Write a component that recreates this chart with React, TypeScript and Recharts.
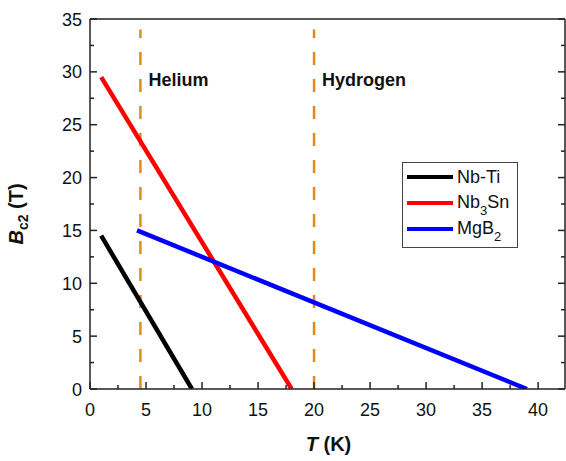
import { LineChart, Line, XAxis, YAxis, ReferenceLine } from 'recharts';

// critical field vs temperature
const nbTi = [
  { t: 1, b: 14.5 },
  { t: 9.1, b: 0 },
];
const nb3Sn = [
  { t: 1, b: 29.5 },
  { t: 18, b: 0 },
];
const mgB2 = [
  { t: 4.2, b: 15 },
  { t: 39, b: 0 },
];

// coolant boiling points
const coolants = [
  { name: 'Helium', t: 4.5 },
  { name: 'Hydrogen', t: 20 },
];
const coolantTop = 34;

const xTicks = [0, 2.5, 5, 7.5, 10, 12.5, 15, 17.5, 20, 22.5, 25, 27.5, 30, 32.5, 35, 37.5, 40];
const yTicks = [0, 2.5, 5, 7.5, 10, 12.5, 15, 17.5, 20, 22.5, 25, 27.5, 30, 32.5, 35];

const legendItems = [
  { name: 'Nb-Ti', sub: '', rest: '', color: '#000000' },
  { name: 'Nb', sub: '3', rest: 'Sn', color: '#ff0000' },
  { name: 'MgB', sub: '2', rest: '', color: '#0000ff' },
];

const FONT = 'Arial, "Liberation Sans", sans-serif';
const AXIS = '#222';
const ORANGE = '#e38b17';

const isMajor = (v: number) => v % 5 === 0;

function BottomTick({ x, y, payload }: any) {
  const major = isMajor(payload.value);
  return (
    <g>
      <line x1={x} x2={x} y1={y} y2={y - (major ? 7 : 4)} stroke={AXIS} strokeWidth={1.5} />
      {major && (
        <text x={x} y={y + 27} textAnchor="middle" fontSize={18} fill="#111">
          {payload.value}
        </text>
      )}
    </g>
  );
}

function TopTick({ x, y, payload }: any) {
  const major = isMajor(payload.value);
  return <line x1={x} x2={x} y1={y} y2={y + (major ? 7 : 4)} stroke={AXIS} strokeWidth={1.5} />;
}

function LeftTick({ x, y, payload }: any) {
  const major = isMajor(payload.value);
  return (
    <g>
      <line x1={x} x2={x + (major ? 7 : 4)} y1={y} y2={y} stroke={AXIS} strokeWidth={1.5} />
      {major && (
        <text x={x - 8} y={y + 6.5} textAnchor="end" fontSize={18} fill="#111">
          {payload.value}
        </text>
      )}
    </g>
  );
}

function RightTick({ x, y, payload }: any) {
  const major = isMajor(payload.value);
  return <line x1={x} x2={x - (major ? 7 : 4)} y1={y} y2={y} stroke={AXIS} strokeWidth={1.5} />;
}

function XTitle({ viewBox }: any) {
  const { x, y, width } = viewBox;
  return (
    <text x={x + width / 2 + 1} y={y + 62} textAnchor="middle" fontSize={20} fontWeight="bold" fill="#111">
      <tspan fontStyle="italic">T</tspan> (K)
    </text>
  );
}

function YTitle({ viewBox }: any) {
  const { x, y, width, height } = viewBox;
  const cx = x + width - 67;
  const cy = y + height / 2 + 10;
  return (
    <text x={cx} y={cy} transform={`rotate(-90 ${cx} ${cy})`} textAnchor="middle" fontSize={20} fontWeight="bold" fill="#111">
      <tspan fontStyle="italic">B</tspan>
      <tspan fontSize={14} dy={5}>c2</tspan>
      <tspan dy={-5}> (T)</tspan>
    </text>
  );
}

function CoolantLabel({ viewBox, value }: any) {
  return (
    <text x={viewBox.x + 8} y={viewBox.y + 56} fontSize={18} fontWeight="bold" fill="#111">
      {value}
    </text>
  );
}

function LegendBox() {
  return (
    <div
      style={{
        position: 'absolute',
        left: 402,
        top: 162,
        width: 114,
        height: 84,
        border: '1px solid #444',
        background: '#fff',
        fontFamily: FONT,
        fontSize: 18,
        color: '#111',
      }}
    >
      {legendItems.map((it, i) => (
        <div key={i} style={{ position: 'absolute', left: 4, top: 3 + i * 26, height: 22, display: 'flex', alignItems: 'center' }}>
          <div style={{ width: 46, height: 4, background: it.color, marginRight: 4 }} />
          <span style={{ whiteSpace: 'nowrap', lineHeight: '22px' }}>
            {it.name}
            {it.sub && <span style={{ fontSize: 13, position: 'relative', top: 7 }}>{it.sub}</span>}
            {it.rest}
          </span>
        </div>
      ))}
    </div>
  );
}

export default function App() {
  return (
    <div style={{ position: 'absolute', left: 0, top: 0, width: 566, height: 461, background: '#fff' }}>
      <LineChart
        width={566}
        height={461}
        margin={{ top: 9, right: 0, bottom: 32, left: 30 }}
        style={{ fontFamily: FONT }}
      >
        <XAxis
          dataKey="t"
          type="number"
          domain={[0, 42.4]}
          ticks={xTicks}
          interval={0}
          height={40}
          tickSize={0}
          tickMargin={0}
          tick={<BottomTick />}
          tickLine={false}
          axisLine={{ stroke: AXIS, strokeWidth: 1.5 }}
          allowDataOverflow
          label={<XTitle />}
        />
        <XAxis
          xAxisId="top"
          orientation="top"
          type="number"
          domain={[0, 42.4]}
          ticks={xTicks}
          interval={0}
          height={10}
          tickSize={0}
          tickMargin={0}
          tick={<TopTick />}
          tickLine={false}
          axisLine={{ stroke: AXIS, strokeWidth: 1.5 }}
          allowDataOverflow
        />
        <YAxis
          type="number"
          domain={[0, 35]}
          ticks={yTicks}
          interval={0}
          width={60}
          tickSize={0}
          tickMargin={0}
          tick={<LeftTick />}
          tickLine={false}
          axisLine={{ stroke: AXIS, strokeWidth: 1.5 }}
          allowDataOverflow
          label={<YTitle />}
        />
        <YAxis
          yAxisId="right"
          orientation="right"
          type="number"
          domain={[0, 35]}
          ticks={yTicks}
          interval={0}
          width={1}
          tickSize={0}
          tickMargin={0}
          tick={<RightTick />}
          tickLine={false}
          axisLine={{ stroke: AXIS, strokeWidth: 1.5 }}
          allowDataOverflow
        />
        {coolants.map((c) => (
          <ReferenceLine
            key={c.name}
            segment={[
              { x: c.t, y: 0 },
              { x: c.t, y: coolantTop },
            ]}
            stroke={ORANGE}
            strokeWidth={2.5}
            strokeDasharray="13 14"
            label={<CoolantLabel value={c.name} />}
          />
        ))}
        <Line data={nbTi} dataKey="b" name="Nb-Ti" stroke="#000000" strokeWidth={4.5} dot={false} isAnimationActive={false} />
        <Line data={nb3Sn} dataKey="b" name="Nb3Sn" stroke="#ff0000" strokeWidth={4.5} dot={false} isAnimationActive={false} />
        <Line data={mgB2} dataKey="b" name="MgB2" stroke="#0000ff" strokeWidth={4.5} dot={false} isAnimationActive={false} />
      </LineChart>
      <LegendBox />
    </div>
  );
}
